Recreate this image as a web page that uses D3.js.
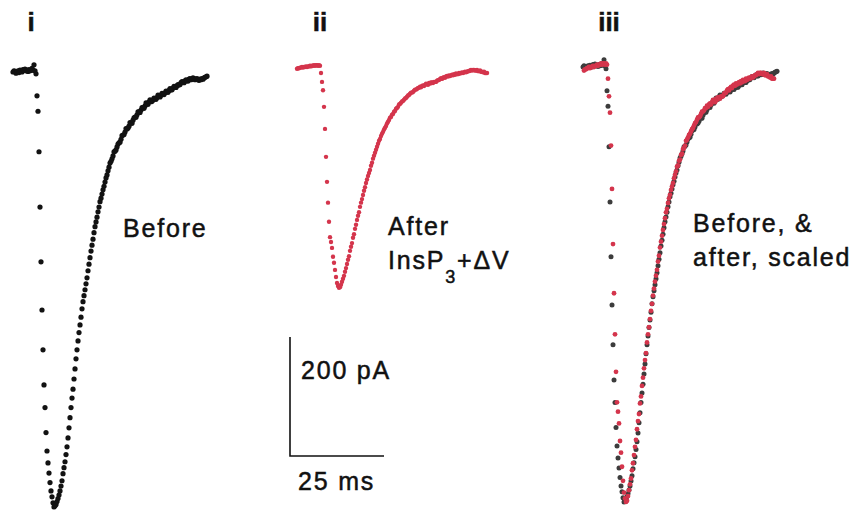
<!DOCTYPE html>
<meta charset="utf-8">
<script src="https://d3js.org/d3.v7.min.js"></script>
<style>
  body { margin: 0; background: #fff; }
  text { font-family: "Liberation Sans", Arial, sans-serif; fill: #111; stroke: #111; stroke-width: 0.5px; }
</style>
<div id="my_dataviz"></div>
<script>

// sample interval of the digitised records (ms)
var sampleMs = 0.266;

// "Before": whole-cell current, pA (negative = inward)
var beforePA = [
  0, 2, 1, -2, 0, 2, -1, 3, 2, 0, 4, 3, 5, 2, 3, 1, 4, 2, 3, 6, 3, 12, 2, -3,
  -40, -66, -134, -227, -319, -400, -467, -526, -564, -606, -637, -657, -674, -690, -704, -714, -724, -731,
  -729, -727, -722, -717, -711, -704, -696, -687, -675, -665, -655, -643, -630, -615, -598, -581, -564, -548,
  -533, -516, -499, -482, -467, -452, -438, -425, -412, -398, -386, -376, -366, -356, -346, -334, -323, -312,
  -301, -291, -281, -270, -260, -252, -244, -235, -227, -218, -212, -205, -198, -192, -185, -178, -173, -166,
  -160, -153, -150, -146, -141, -134, -133, -131, -126, -121, -119, -118, -113, -107, -106, -105, -101, -95,
  -96, -94, -91, -85, -86, -86, -81, -77, -76, -76, -72, -67, -67, -68, -64, -60, -60, -61, -57, -52,
  -54, -54, -50, -47, -50, -49, -47, -44, -45, -46, -43, -39, -41, -42, -39, -36, -37, -38, -35, -32,
  -34, -34, -31, -28, -30, -30, -27, -24, -26, -26, -23, -21, -22, -21, -18, -16, -17, -18, -15, -13,
  -15, -15, -12, -11, -13, -12, -10, -11, -13, -12, -11, -13, -14, -12, -13, -11, -12, -10, -9, -8, -7
];

// "After InsP3 + dV": pA
var afterPA = [
  -3, -2, -2, -1, -1, 0, -1, 0, 0, 1, 0, 1, 1, 2, 1, 2, 2, 3, 2, 3, 3, 2, 3, 2,
  -10, -25, -39, -67, -104, -151, -193, -228, -260, -286, -294, -304, -319, -329, -341, -353, -363, -368,
  -371, -370, -366, -361, -356, -351, -344, -338, -331, -324, -318, -309, -302, -296, -287, -281, -272, -265,
  -257, -250, -244, -235, -228, -222, -215, -208, -202, -195, -189, -183, -178, -173, -166, -161, -154, -149,
  -144, -139, -134, -129, -124, -121, -116, -112, -109, -105, -102, -99, -95, -92, -89, -85, -84, -80,
  -79, -75, -74, -70, -69, -67, -63, -62, -60, -58, -57, -55, -53, -52, -50, -48, -47, -45,
  -43, -43, -42, -40, -38, -38, -37, -35, -35, -33, -34, -32, -31, -32, -30, -28, -29, -30, -27, -28,
  -26, -26, -27, -25, -25, -25, -23, -22, -22, -20, -19, -20, -18, -17, -18, -16, -15, -16, -14, -15,
  -14, -13, -14, -12, -13, -11, -12, -12, -10, -11, -10, -9, -10, -9, -8, -9, -8, -7, -7, -6, -5, -6,
  -5, -5, -6, -6, -5, -7, -7, -6, -8, -8, -9, -8, -10, -10, -10
];

var panelLabels = ["i", "ii", "iii"];
var traceLabels = [["Before"], ["After", "InsP3+\u0394V"], ["Before, &", "after, scaled"]];
var scaleBarMs = 25, scaleBarPA = 200;

var width = 860, height = 514;
var pxPerMs = 3.76, pxPerPA = 0.595;
var black = "#121212", grey = "#3c3c3c", red = "#d4354c";

var svg = d3.select("#my_dataviz")
  .append("svg")
    .attr("width", width)
    .attr("height", height);

svg.append("rect").attr("width", width).attr("height", height).attr("fill", "#fff");

function xScale(x0) {
  return d3.scaleLinear().domain([0, 60]).range([x0, x0 + 60 * pxPerMs]);
}
function yScale(y0) {
  return d3.scaleLinear().domain([0, -800]).range([y0, y0 + 800 * pxPerPA]);
}

function drawTrace(data, x, y, r, color) {
  svg.append("g").selectAll("circle")
    .data(data)
    .join("circle")
      .attr("cx", function(d, i) { return x(i * sampleMs); })
      .attr("cy", function(d) { return y(d); })
      .attr("r", r)
      .attr("fill", color);
}

// panel i
drawTrace(beforePA, xScale(13), yScale(72), 2.6, black);
// panel ii
drawTrace(afterPA, xScale(297), yScale(67), 2.2, red);
// panel iii: before, and after scaled to the same peak
var factor = d3.min(beforePA) / d3.min(afterPA);
var afterScaled = afterPA.map(function(d) { return d * factor; });
drawTrace(beforePA, xScale(583), yScale(67), 2.5, grey);
drawTrace(afterScaled, xScale(584), yScale(67), 2.4, red);

// panel labels
var labelX = [31, 320, 609];
svg.selectAll(".plabel")
  .data(panelLabels)
  .join("text")
    .attr("class", "plabel")
    .attr("x", function(d, i) { return labelX[i]; })
    .attr("y", 31)
    .attr("text-anchor", "middle")
    .style("font-size", "26px")
    .style("font-weight", "bold")
    .text(function(d) { return d; });

// trace labels
var textPos = [[123, 237], [388, 235], [693, 232]];
traceLabels.forEach(function(lines, i) {
  lines.forEach(function(line, j) {
    var t = svg.append("text")
      .attr("x", textPos[i][0])
      .attr("y", textPos[i][1] + j * 34)
      .style("font-size", "25px")
      .style("letter-spacing", "1.8px");
    if (line.indexOf("InsP3") === 0) {
      t.append("tspan").text("InsP");
      t.append("tspan").attr("dy", 14).style("font-size", "18px").text("3");
      t.append("tspan").attr("dy", -14).text(line.slice(5));
    } else {
      t.text(line);
    }
  });
});

// scale bar
var sx = d3.scaleLinear().domain([0, scaleBarMs]).range([290, 290 + scaleBarMs * pxPerMs]);
var sy = d3.scaleLinear().domain([0, scaleBarPA]).range([456, 456 - scaleBarPA * pxPerPA]);
svg.append("path")
  .attr("d", d3.line()([[sx(0), sy(scaleBarPA)], [sx(0), sy(0)], [sx(scaleBarMs), sy(0)]]))
  .attr("fill", "none")
  .attr("stroke", "#111")
  .attr("stroke-width", 1.6);

svg.append("text")
  .attr("x", 301).attr("y", 379)
  .style("font-size", "25px").style("letter-spacing", "1.8px")
  .text(scaleBarPA + " pA");
svg.append("text")
  .attr("x", 298).attr("y", 490)
  .style("font-size", "25px").style("letter-spacing", "1.8px")
  .text(scaleBarMs + " ms");

</script>
